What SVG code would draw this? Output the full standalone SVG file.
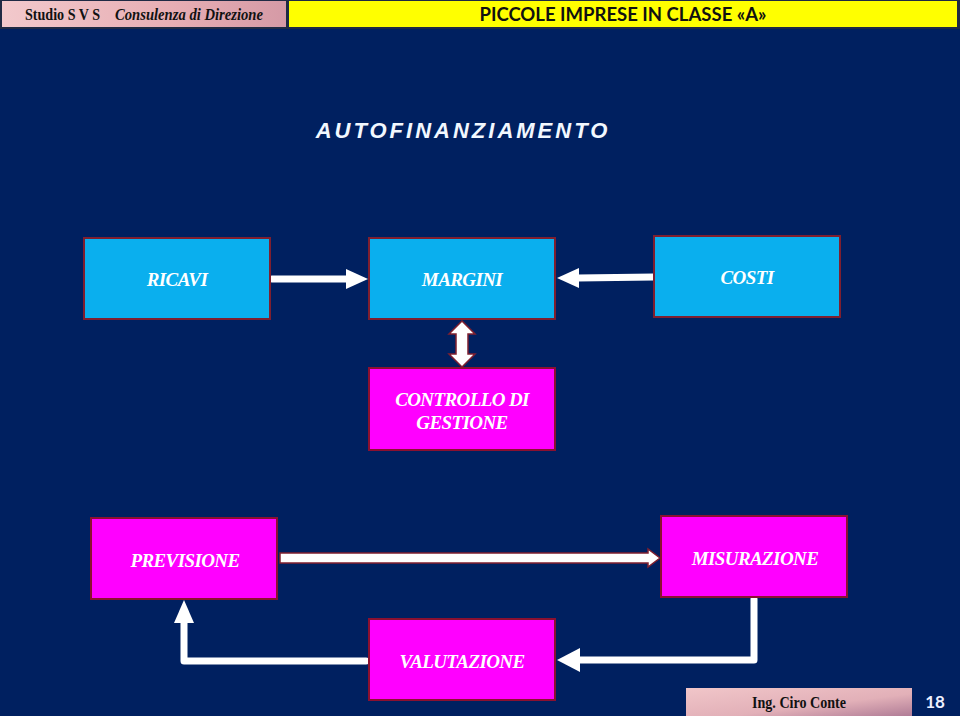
<svg xmlns="http://www.w3.org/2000/svg" width="960" height="716" viewBox="0 0 960 716">
<defs>
<linearGradient id="pink" x1="0" y1="0" x2="1" y2="0">
<stop offset="0" stop-color="#F2C9CC"/>
<stop offset="0.6" stop-color="#E7AEB4"/>
<stop offset="1" stop-color="#D59AA6"/>
</linearGradient>
<linearGradient id="pink2" x1="0" y1="0" x2="1" y2="1">
<stop offset="0" stop-color="#F1C6C9"/>
<stop offset="0.6" stop-color="#E2B0B8"/>
<stop offset="1" stop-color="#B07C96"/>
</linearGradient>
</defs>
<style>
.cy{fill:#0AAFEE;stroke:#7F1F2F;stroke-width:2}
.mg{fill:#FF00FF;stroke:#8B1030;stroke-width:2}
.lb{font-family:"Liberation Serif",serif;font-style:italic;font-weight:bold;font-size:19px;fill:#FFFFFF;text-anchor:middle;letter-spacing:-0.6px}
.wl{fill:none;stroke:#FFFFFF;stroke-width:7;stroke-linecap:round;stroke-linejoin:round}
.wh{fill:#FFFFFF}
.ol{fill:#FFFFFF;stroke:#7F1F2F;stroke-width:1.5}
.hs{font-family:"Liberation Serif",serif;font-weight:bold;fill:#111}
</style>
<rect x="0" y="0" width="960" height="716" fill="#002060"/>
<g id="header">
<rect x="0" y="0" width="960" height="29" fill="#1F2A44"/>
<rect x="2" y="1" width="284" height="26" fill="url(#pink)"/>
<rect x="289" y="1" width="668" height="26" fill="#FFFF00"/>
<text class="hs" x="25" y="20" font-size="17" textLength="75" lengthAdjust="spacingAndGlyphs">Studio S V S</text>
<text class="hs" x="115" y="20" font-size="17" font-style="italic" textLength="148" lengthAdjust="spacingAndGlyphs">Consulenza di Direzione</text>
<text x="623" y="21" font-family="Lato,'Liberation Sans',sans-serif" font-weight="bold" font-size="18.5" fill="#111" text-anchor="middle" textLength="287" lengthAdjust="spacingAndGlyphs">PICCOLE IMPRESE IN CLASSE «A»</text>
</g>
<text id="title" x="463" y="138" font-family="'Liberation Sans',Arial,sans-serif" font-weight="bold" font-style="italic" font-size="22" letter-spacing="3" fill="#F2F8FF" text-anchor="middle">AUTOFINANZIAMENTO</text>
<g id="connectors">
<line class="wl" x1="272" y1="279" x2="346" y2="279"/>
<polygon class="wh" points="346,269 368,279 346,289"/>
<line class="wl" x1="654" y1="277" x2="578" y2="278"/>
<polygon class="wh" points="579,268 557,278 579,288"/>
<polygon class="ol" points="462,321 475,334 468,334 468,354 475,354 462,367 449,354 456,354 456,334 449,334"/>
<polygon class="ol" points="280,553 648,553 648,549 660,558 648,567 648,563 280,563"/>
<polyline class="wl" points="754,599 754,660 580,660"/>
<polygon class="wh" points="580,648 557,660 580,672"/>
<polyline class="wl" points="366,661 184,661 184,622"/>
<polygon class="wh" points="174,623 184,600 194,623"/>
</g>
<g id="ricavi"><rect class="cy" x="84" y="238" width="186" height="81"/><text class="lb" x="177" y="286">RICAVI</text></g>
<g id="margini"><rect class="cy" x="369" y="238" width="186" height="81"/><text class="lb" x="462" y="286">MARGINI</text></g>
<g id="costi"><rect class="cy" x="654" y="236" width="186" height="81"/><text class="lb" x="747" y="284">COSTI</text></g>
<g id="controllo"><rect class="mg" x="369" y="368" width="186" height="82"/><text class="lb" x="462" y="406">CONTROLLO DI</text><text class="lb" x="462" y="429">GESTIONE</text></g>
<g id="previsione"><rect class="mg" x="91" y="518" width="186" height="81"/><text class="lb" x="185" y="567">PREVISIONE</text></g>
<g id="misurazione"><rect class="mg" x="661" y="516" width="186" height="81"/><text class="lb" x="755" y="565">MISURAZIONE</text></g>
<g id="valutazione"><rect class="mg" x="369" y="619" width="186" height="81"/><text class="lb" x="462" y="668">VALUTAZIONE</text></g>
<g id="footer">
<rect x="686" y="688" width="226" height="28" fill="url(#pink2)"/>
<text class="hs" x="799" y="708" font-size="16.5" text-anchor="middle" textLength="94" lengthAdjust="spacingAndGlyphs">Ing. Ciro Conte</text>
<text x="935" y="708" font-family="Lato,'Liberation Sans',sans-serif" font-weight="bold" font-size="17" fill="#EEF0FF" text-anchor="middle">18</text>
</g>
</svg>
